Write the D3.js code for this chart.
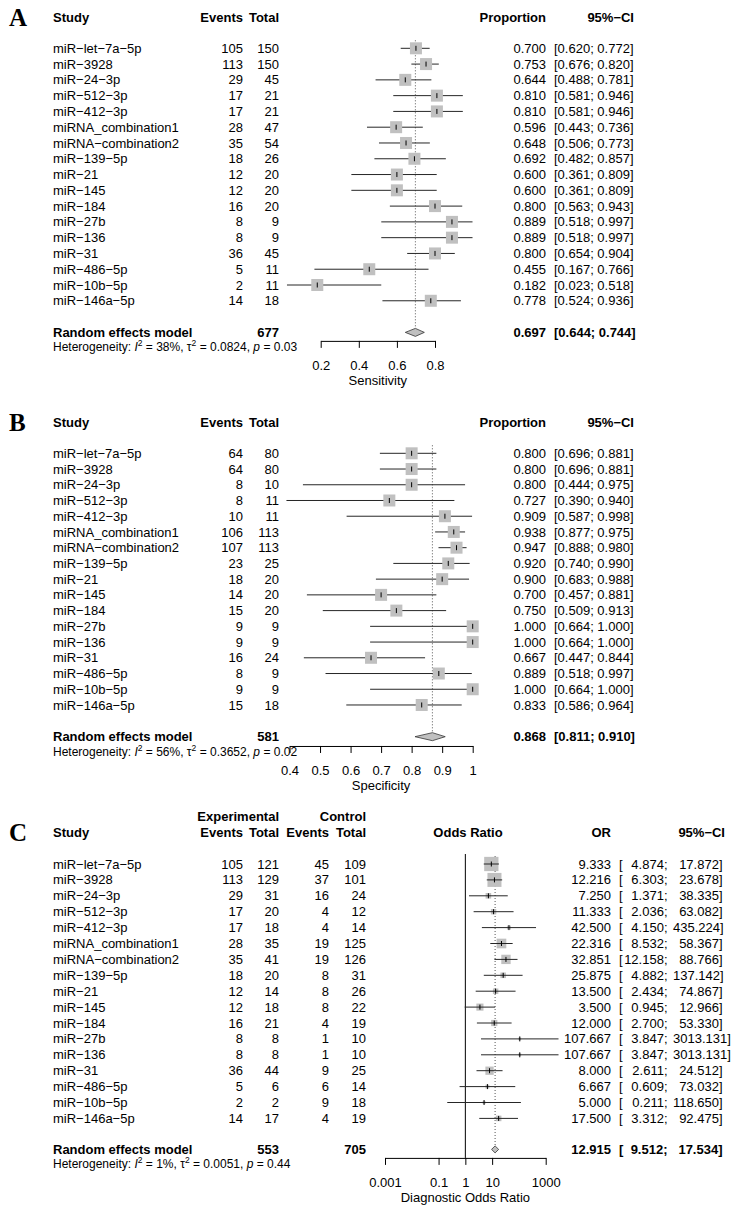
<!DOCTYPE html>
<html><head><meta charset="utf-8">
<script src="https://cdn.jsdelivr.net/npm/d3@7"></script>
<style>
body{margin:0;background:#fff}
svg text{font-family:"Liberation Sans",Arial,Helvetica,sans-serif;font-size:13px;fill:#000}
</style>
</head><body>
<svg id="chart" width="736" height="1212"></svg>
<script>
// ---------- DATA ----------
const studies = ["miR\u2212let\u22127a\u22125p","miR\u22123928","miR\u221224\u22123p","miR\u2212512\u22123p","miR\u2212412\u22123p",
  "miRNA_combination1","miRNA\u2212combination2","miR\u2212139\u22125p","miR\u221221","miR\u2212145","miR\u2212184",
  "miR\u221227b","miR\u2212136","miR\u221231","miR\u2212486\u22125p","miR\u221210b\u22125p","miR\u2212146a\u22125p"];

// Panel A: sensitivity
const sensEvents = [105,113,29,17,17,28,35,18,12,12,16,8,8,36,5,2,14];
const sensTotal  = [150,150,45,21,21,47,54,26,20,20,20,9,9,45,11,11,18];
const sensProp   = [0.700,0.753,0.644,0.810,0.810,0.596,0.648,0.692,0.600,0.600,0.800,0.889,0.889,0.800,0.455,0.182,0.778];
const sensLower  = [0.620,0.676,0.488,0.581,0.581,0.443,0.506,0.482,0.361,0.361,0.563,0.518,0.518,0.654,0.167,0.023,0.524];
const sensUpper  = [0.772,0.820,0.781,0.946,0.946,0.736,0.773,0.857,0.809,0.809,0.943,0.997,0.997,0.904,0.766,0.518,0.936];
const sensPooled = [0.697,0.644,0.744];
const sensN = 677;
const sensHet = ["38%","0.0824","0.03"];
const sensTicks = [0.2,0.4,0.6,0.8];
const sensTickLabels = ["0.2","0.4","0.6","0.8"];

// Panel B: specificity
const specEvents = [64,64,8,8,10,106,107,23,18,14,15,9,9,16,8,9,15];
const specTotal  = [80,80,10,11,11,113,113,25,20,20,20,9,9,24,9,9,18];
const specProp   = [0.800,0.800,0.800,0.727,0.909,0.938,0.947,0.920,0.900,0.700,0.750,1.000,1.000,0.667,0.889,1.000,0.833];
const specLower  = [0.696,0.696,0.444,0.390,0.587,0.877,0.888,0.740,0.683,0.457,0.509,0.664,0.664,0.447,0.518,0.664,0.586];
const specUpper  = [0.881,0.881,0.975,0.940,0.998,0.975,0.980,0.990,0.988,0.881,0.913,1.000,1.000,0.844,0.997,1.000,0.964];
const specPooled = [0.868,0.811,0.910];
const specN = 581;
const specHet = ["56%","0.3652","0.02"];
const specTicks = [0.4,0.5,0.6,0.7,0.8,0.9,1];
const specTickLabels = ["0.4","0.5","0.6","0.7","0.8","0.9","1"];

// Panel C: diagnostic odds ratio
const expEvents = [105,113,29,17,17,28,35,18,12,12,16,8,8,36,5,2,14];
const expTotal  = [121,129,31,20,18,35,41,20,14,18,21,8,8,44,6,2,17];
const ctlEvents = [45,37,16,4,4,19,19,8,8,8,4,1,1,9,6,9,4];
const ctlTotal  = [109,101,24,12,14,125,126,31,26,22,19,10,10,25,14,18,19];
const orValue = [9.333,12.216,7.250,11.333,42.500,22.316,32.851,25.875,13.500,3.500,12.000,107.667,107.667,8.000,6.667,5.000,17.500];
const orLower = [4.874,6.303,1.371,2.036,4.150,8.532,12.158,4.882,2.434,0.945,2.700,3.847,3.847,2.611,0.609,0.211,3.312];
const orUpper = [17.872,23.678,38.335,63.082,435.224,58.367,88.766,137.142,74.867,12.966,53.330,3013.131,3013.131,24.512,73.032,118.650,92.475];
const orPooled = [12.915,9.512,17.534];
const orNexp = 553, orNctl = 705;
const orHet = ["1%","0.0051","0.44"];
const orTicks = [0.001,0.1,1,10,1000];
const orTickLabels = ["0.001","0.1","1","10","1000"];

// ---------- DRAWING ----------
const svg = d3.select("#chart");
const f3 = d3.format(".3f");
const BOXFILL = "#c0c0c0";
const LINE = "#262626";

function txt(x, y, s, opt = {}) {
  const t = svg.append("text").attr("x", x).attr("y", y).attr("dy", "0.35em").text(s);
  if (opt.anchor) t.attr("text-anchor", opt.anchor);
  if (opt.bold) t.attr("font-weight", "bold");
  if (opt.size) t.style("font-size", opt.size + "px");
  return t;
}
function panelLetter(ch, y) {
  svg.append("text").attr("x", 9).attr("y", y).attr("dy", "0.35em")
    .style("font-family", "'Liberation Serif','Times New Roman',serif")
    .style("font-size", "25px").attr("font-weight", "bold").text(ch);
}
function hetText(y, het) {
  const t = svg.append("text").attr("x", 53).attr("y", y).attr("dy", "0.35em").style("font-size", "12px");
  t.append("tspan").text("Heterogeneity: ");
  t.append("tspan").style("font-style", "italic").text("I");
  t.append("tspan").attr("baseline-shift", "super").style("font-size", "8.5px").text("2");
  t.append("tspan").text(" = " + het[0] + ", \u03c4");
  t.append("tspan").attr("baseline-shift", "super").style("font-size", "8.5px").text("2");
  t.append("tspan").text(" = " + het[1] + ", ");
  t.append("tspan").style("font-style", "italic").text("p");
  t.append("tspan").text(" = " + het[2]);
}
function drawAxis(x, ticks, labels, axisY, title, titleY) {
  const ax = d3.axisBottom(x).tickValues(ticks).tickSize(7).tickSizeOuter(0).tickPadding(12.5)
    .tickFormat((d, i) => labels[i]);
  const g = svg.append("g").attr("transform", `translate(0,${axisY})`).call(ax);
  g.attr("font-family", null).attr("font-size", null);
  g.selectAll("path.domain").attr("stroke", "#000").attr("stroke-width", 1);
  g.selectAll(".tick line").attr("stroke", "#000").attr("stroke-width", 1);
  g.selectAll(".tick text").style("font-size", "13px").attr("fill", "#000");
  const xs = x.range();
  txt((xs[0] + xs[1]) / 2, titleY, title, { anchor: "middle" });
}

function propPanel(c) {
  panelLetter(c.letter, c.headY);
  txt(53, c.headY, "Study", { bold: true });
  txt(243, c.headY, "Events", { bold: true, anchor: "end" });
  txt(279, c.headY, "Total", { bold: true, anchor: "end" });
  txt(546, c.headY, "Proportion", { bold: true, anchor: "end" });
  txt(634, c.headY, "95%\u2212CI", { bold: true, anchor: "end" });

  const y = i => c.firstY + i * c.step;
  const x = c.x;
  const pooledY = y(studies.length - 1) + c.poolGap;

  // dotted reference line at pooled estimate
  svg.append("line").attr("x1", x(c.pooled[0])).attr("x2", x(c.pooled[0]))
    .attr("y1", c.firstY - 8).attr("y2", pooledY - 4)
    .attr("stroke", "#555").attr("stroke-width", 1).attr("stroke-dasharray", "1,2");

  studies.forEach((s, i) => {
    const yy = y(i);
    txt(53, yy, s);
    txt(243, yy, c.events[i], { anchor: "end" });
    txt(279, yy, c.total[i], { anchor: "end" });
    svg.append("line").attr("x1", x(c.lower[i])).attr("x2", x(c.upper[i]))
      .attr("y1", yy).attr("y2", yy).attr("stroke", LINE).attr("stroke-width", 1);
    const b = c.box;
    svg.append("rect").attr("x", x(c.prop[i]) - b / 2).attr("y", yy - b / 2)
      .attr("width", b).attr("height", b).attr("fill", BOXFILL);
    svg.append("line").attr("x1", x(c.prop[i])).attr("x2", x(c.prop[i]))
      .attr("y1", yy - 2.5).attr("y2", yy + 2.5).attr("stroke", "#000").attr("stroke-width", 1);
    txt(546, yy, f3(c.prop[i]), { anchor: "end" });
    txt(554, yy, `[${f3(c.lower[i])}; ${f3(c.upper[i])}]`);
  });

  // pooled
  const p = c.pooled;
  svg.append("path")
    .attr("d", `M${x(p[1])},${pooledY}L${x(p[0])},${pooledY - 4}L${x(p[2])},${pooledY}L${x(p[0])},${pooledY + 4}Z`)
    .attr("fill", BOXFILL).attr("stroke", "#333").attr("stroke-width", 0.8);
  txt(53, pooledY, "Random effects model", { bold: true });
  txt(279, pooledY, c.N, { bold: true, anchor: "end" });
  txt(546, pooledY, f3(p[0]), { bold: true, anchor: "end" });
  txt(554, pooledY, `[${f3(p[1])}; ${f3(p[2])}]`, { bold: true });
  hetText(pooledY + c.hetGap, c.het);

  drawAxis(x, c.ticks, c.tickLabels, pooledY + c.axisGap, c.title, pooledY + c.titleGap);
}

propPanel({
  letter: "A", headY: 17, firstY: 48.3, step: 15.78, poolGap: 31.6,
  events: sensEvents, total: sensTotal, prop: sensProp, lower: sensLower, upper: sensUpper,
  pooled: sensPooled, N: sensN, het: sensHet,
  x: d3.scaleLinear().domain([0.2, 0.8]).range([320.7, 435]),
  ticks: sensTicks, tickLabels: sensTickLabels, title: "Sensitivity",
  box: 12, hetGap: 14.5, axisGap: 8.5, titleGap: 48
});

propPanel({
  letter: "B", headY: 422.5, firstY: 453.3, step: 15.73, poolGap: 31.7,
  events: specEvents, total: specTotal, prop: specProp, lower: specLower, upper: specUpper,
  pooled: specPooled, N: specN, het: specHet,
  x: d3.scaleLinear().domain([0.4, 1]).range([289.5, 472.7]),
  ticks: specTicks, tickLabels: specTickLabels, title: "Specificity",
  box: 12, hetGap: 15, axisGap: 9.3, titleGap: 49
});

// ---------- Panel C ----------
(function () {
  const headY = 832, firstY = 864, step = 15.9;
  const y = i => firstY + i * step;
  const pooledY = y(studies.length - 1) + 31;
  const x = d3.scaleLog().domain([0.001, 1000]).range([385, 545.7]);

  panelLetter("C", headY);
  txt(279, headY - 16, "Experimental", { bold: true, anchor: "end" });
  txt(366, headY - 16, "Control", { bold: true, anchor: "end" });
  txt(53, headY, "Study", { bold: true });
  txt(243, headY, "Events", { bold: true, anchor: "end" });
  txt(279, headY, "Total", { bold: true, anchor: "end" });
  txt(329, headY, "Events", { bold: true, anchor: "end" });
  txt(366, headY, "Total", { bold: true, anchor: "end" });
  txt(468, headY, "Odds Ratio", { bold: true, anchor: "middle" });
  txt(611, headY, "OR", { bold: true, anchor: "end" });
  txt(725, headY, "95%\u2212CI", { bold: true, anchor: "end" });

  const axisY = pooledY + 8.5;
  // line of no effect
  svg.append("line").attr("x1", x(1)).attr("x2", x(1)).attr("y1", firstY - 10).attr("y2", axisY)
    .attr("stroke", "#000").attr("stroke-width", 1);
  // dotted pooled line
  svg.append("line").attr("x1", x(orPooled[0])).attr("x2", x(orPooled[0]))
    .attr("y1", firstY - 8).attr("y2", pooledY - 4)
    .attr("stroke", "#555").attr("stroke-width", 1).attr("stroke-dasharray", "1,2");

  // inverse-variance weights from the 2x2 counts (0.5 correction for zero cells)
  const weights = studies.map((s, i) => {
    let a = expEvents[i], b = expTotal[i] - expEvents[i], cc = ctlEvents[i], d = ctlTotal[i] - ctlEvents[i];
    if (a === 0 || b === 0 || cc === 0 || d === 0) { a += 0.5; b += 0.5; cc += 0.5; d += 0.5; }
    return 1 / (1 / a + 1 / b + 1 / cc + 1 / d);
  });
  const boxScale = d3.scaleSqrt().domain([0, d3.max(weights)]).range([0, 14.3]);

  function ciText(yy, lo, hi, bold) {
    txt(619, yy, "[", { bold });
    txt(667.5, yy, f3(lo) + ";", { bold, anchor: "end" });
    const t = txt(722.5, yy, f3(hi) + "]", { bold, anchor: "end" });
    const w = t.node().getComputedTextLength();
    if (722.5 - w < 673) t.attr("x", 673).attr("text-anchor", "start");
  }

  studies.forEach((s, i) => {
    const yy = y(i);
    txt(53, yy, s);
    txt(243, yy, expEvents[i], { anchor: "end" });
    txt(279, yy, expTotal[i], { anchor: "end" });
    txt(329, yy, ctlEvents[i], { anchor: "end" });
    txt(366, yy, ctlTotal[i], { anchor: "end" });
    const b = boxScale(weights[i]);
    svg.append("rect").attr("x", x(orValue[i]) - b / 2).attr("y", yy - b / 2)
      .attr("width", b).attr("height", b).attr("fill", BOXFILL);
    svg.append("line").attr("x1", x(orLower[i])).attr("x2", x(orUpper[i]))
      .attr("y1", yy).attr("y2", yy).attr("stroke", LINE).attr("stroke-width", 1);
    svg.append("line").attr("x1", x(orValue[i])).attr("x2", x(orValue[i]))
      .attr("y1", yy - 2.5).attr("y2", yy + 2.5).attr("stroke", "#000").attr("stroke-width", 1);
    txt(611, yy, f3(orValue[i]), { anchor: "end" });
    ciText(yy, orLower[i], orUpper[i], false);
  });

  const p = orPooled;
  svg.append("path")
    .attr("d", `M${x(p[1])},${pooledY}L${x(p[0])},${pooledY - 3.5}L${x(p[2])},${pooledY}L${x(p[0])},${pooledY + 3.5}Z`)
    .attr("fill", BOXFILL).attr("stroke", "#333").attr("stroke-width", 0.8);
  txt(53, pooledY, "Random effects model", { bold: true });
  txt(279, pooledY, orNexp, { bold: true, anchor: "end" });
  txt(366, pooledY, orNctl, { bold: true, anchor: "end" });
  txt(611, pooledY, f3(p[0]), { bold: true, anchor: "end" });
  ciText(pooledY, p[1], p[2], true);
  hetText(pooledY + 14, orHet);

  drawAxis(x, orTicks, orTickLabels, axisY, "Diagnostic Odds Ratio", pooledY + 47.6);
})();
</script>
</body></html>
